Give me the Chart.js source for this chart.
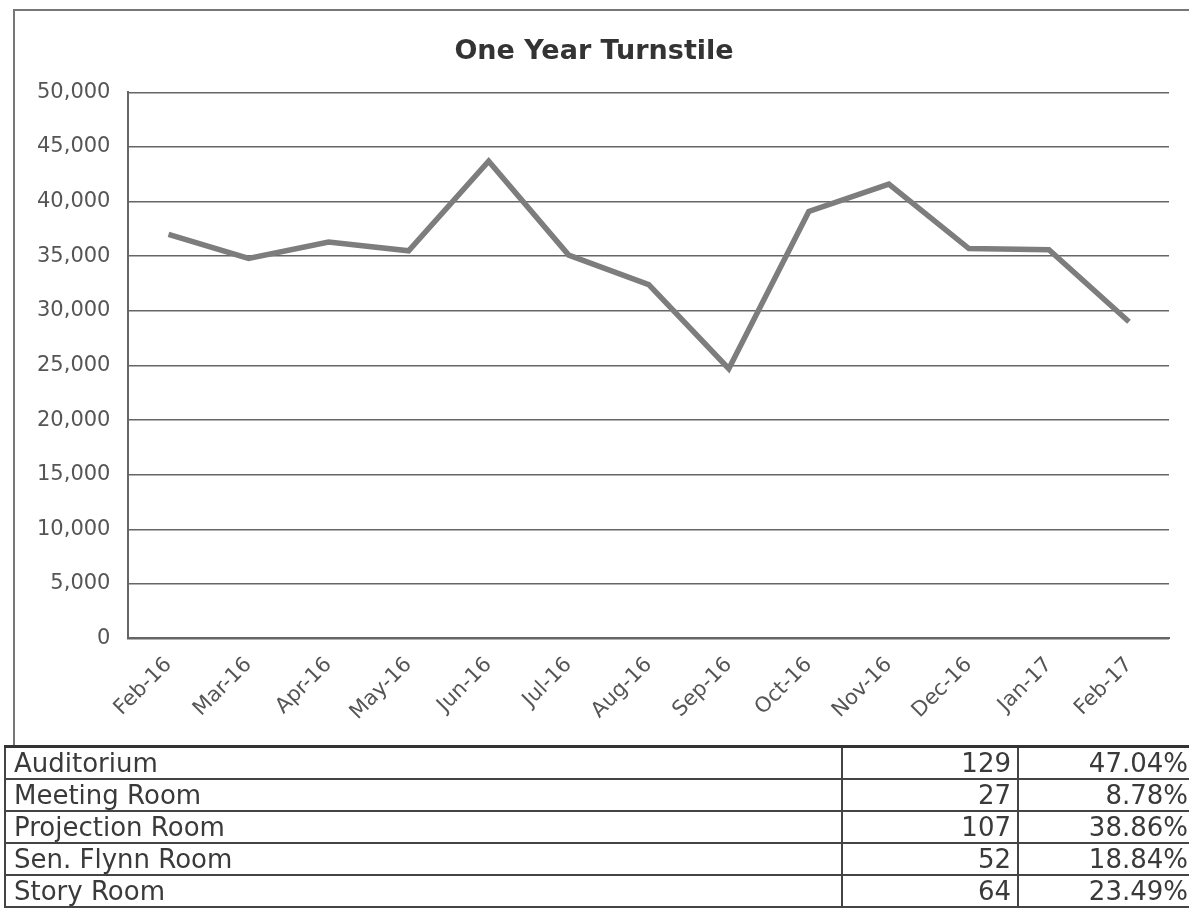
<!DOCTYPE html>
<html>
<head>
<meta charset="utf-8">
<script src="https://cdn.jsdelivr.net/npm/chart.js@4.4.0/dist/chart.umd.min.js"></script>
<style>
  body { margin: 0; background: #fff; width: 1189px; height: 915px; overflow: hidden; position: relative; }
  #frame { position: absolute; left: 13px; top: 9px; width: 1180px; height: 736px;
           border-left: 2px solid #777; border-top: 2px solid #777; }
  #wrap { position: absolute; left: 0; top: 0; width: 1176px; height: 736px; }
  table { position: absolute; left: 4px; top: 745px; width: 1192px; border-collapse: collapse;
          font-family: "DejaVu Sans", Verdana, sans-serif; font-size: 26px; color: #3a3a3a; }
  td { border: 2px solid #444; height: 30px; padding: 0 6px 0 8px; line-height: 30px; white-space: nowrap; }
  tr:first-child td { border-top: 3px solid #333; }
  td.num { text-align: right; }
</style>
</head>
<body>
<div id="frame"><div id="wrap"><canvas id="turnstileChart"></canvas></div></div>
<table id="rooms"></table>
<script>
let months = ["Feb-16", "Mar-16", "Apr-16", "May-16", "Jun-16", "Jul-16", "Aug-16",
              "Sep-16", "Oct-16", "Nov-16", "Dec-16", "Jan-17", "Feb-17"];
let visits = [37000, 34800, 36300, 35500, 43700, 35100, 32400,
              24700, 39100, 41600, 35700, 35600, 29000];

let roomNames = ["Auditorium", "Meeting Room", "Projection Room", "Sen. Flynn Room", "Story Room"];
let roomCounts = [129, 27, 107, 52, 64];
let roomPercents = ["47.04%", "8.78%", "38.86%", "18.84%", "23.49%"];

// room table under the chart
let roomTable = document.getElementById("rooms");
for (let i = 0; i < roomNames.length; i++) {
    let row = document.createElement("tr");
    let name = document.createElement("td");
    name.textContent = roomNames[i];
    name.style.width = "821px";
    let count = document.createElement("td");
    count.textContent = roomCounts[i];
    count.className = "num";
    count.style.width = "160px";
    let pct = document.createElement("td");
    pct.textContent = roomPercents[i];
    pct.className = "num";
    row.appendChild(name);
    row.appendChild(count);
    row.appendChild(pct);
    roomTable.appendChild(row);
}

let gridColor = "#666";
let turnstileChart = new Chart(document.getElementById("turnstileChart"), {
    type: "line",
    data: {
        labels: months,
        datasets: [{
            data: visits,
            borderColor: "#7d7d7d",
            borderWidth: 5.5,
            pointRadius: 0,
            tension: 0,
            fill: false
        }]
    },
    options: {
        responsive: true,
        maintainAspectRatio: false,
        animation: false,
        layout: { padding: { left: 4, right: 22, top: 0, bottom: 16 } },
        plugins: {
            legend: { display: false },
            tooltip: { enabled: false },
            title: {
                display: true,
                text: "One Year Turnstile",
                color: "#333",
                font: { family: "DejaVu Sans", size: 27, weight: "bold" },
                padding: { top: 25, bottom: 24 }
            }
        },
        scales: {
            x: {
                offset: true,
                grid: { display: false },
                border: { display: true, color: gridColor, width: 2 },
                ticks: {
                    color: "#555",
                    font: { family: "DejaVu Sans", size: 21 },
                    minRotation: 45,
                    maxRotation: 45,
                    autoSkip: false,
                    padding: 6
                }
            },
            y: {
                min: 0,
                max: 50000,
                grid: { color: gridColor, lineWidth: 1.5, drawTicks: false },
                border: { display: true, color: gridColor, width: 2 },
                ticks: {
                    stepSize: 5000,
                    color: "#555",
                    font: { family: "DejaVu Sans", size: 21 },
                    padding: 18,
                    callback: v => v.toLocaleString("en-US")
                }
            }
        }
    }
});
</script>
</body>
</html>
